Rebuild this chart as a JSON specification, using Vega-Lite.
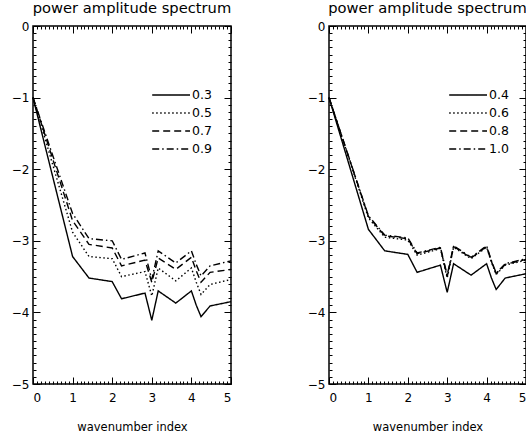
{
  "$schema": "https://vega.github.io/schema/vega-lite/v6.json",
  "padding": {"left": 10, "top": 0, "right": 0, "bottom": 0},
  "datasets": {
    "left": [
      {"s":"0.3","x":0,"y":-1},{"s":"0.3","x":1,"y":-3.22},{"s":"0.3","x":1.414,"y":-3.52},{"s":"0.3","x":2,"y":-3.57},{"s":"0.3","x":2.236,"y":-3.81},{"s":"0.3","x":2.828,"y":-3.73},{"s":"0.3","x":3,"y":-4.11},{"s":"0.3","x":3.162,"y":-3.70},{"s":"0.3","x":3.606,"y":-3.87},{"s":"0.3","x":4,"y":-3.70},{"s":"0.3","x":4.123,"y":-3.90},{"s":"0.3","x":4.243,"y":-4.06},{"s":"0.3","x":4.472,"y":-3.91},{"s":"0.3","x":5,"y":-3.85},
      {"s":"0.5","x":0,"y":-1},{"s":"0.5","x":1,"y":-2.88},{"s":"0.5","x":1.414,"y":-3.22},{"s":"0.5","x":2,"y":-3.25},{"s":"0.5","x":2.236,"y":-3.50},{"s":"0.5","x":2.828,"y":-3.43},{"s":"0.5","x":3,"y":-3.77},{"s":"0.5","x":3.162,"y":-3.38},{"s":"0.5","x":3.606,"y":-3.56},{"s":"0.5","x":4,"y":-3.38},{"s":"0.5","x":4.123,"y":-3.58},{"s":"0.5","x":4.243,"y":-3.75},{"s":"0.5","x":4.472,"y":-3.61},{"s":"0.5","x":5,"y":-3.54},
      {"s":"0.7","x":0,"y":-1},{"s":"0.7","x":1,"y":-2.72},{"s":"0.7","x":1.414,"y":-3.05},{"s":"0.7","x":2,"y":-3.10},{"s":"0.7","x":2.236,"y":-3.35},{"s":"0.7","x":2.828,"y":-3.27},{"s":"0.7","x":3,"y":-3.58},{"s":"0.7","x":3.162,"y":-3.24},{"s":"0.7","x":3.606,"y":-3.40},{"s":"0.7","x":4,"y":-3.23},{"s":"0.7","x":4.123,"y":-3.42},{"s":"0.7","x":4.243,"y":-3.58},{"s":"0.7","x":4.472,"y":-3.44},{"s":"0.7","x":5,"y":-3.40},
      {"s":"0.9","x":0,"y":-1},{"s":"0.9","x":1,"y":-2.62},{"s":"0.9","x":1.414,"y":-2.97},{"s":"0.9","x":2,"y":-3.00},{"s":"0.9","x":2.236,"y":-3.26},{"s":"0.9","x":2.828,"y":-3.17},{"s":"0.9","x":3,"y":-3.54},{"s":"0.9","x":3.162,"y":-3.14},{"s":"0.9","x":3.606,"y":-3.31},{"s":"0.9","x":4,"y":-3.14},{"s":"0.9","x":4.123,"y":-3.33},{"s":"0.9","x":4.243,"y":-3.49},{"s":"0.9","x":4.472,"y":-3.35},{"s":"0.9","x":5,"y":-3.28}
    ],
    "right": [
      {"s":"0.4","x":0,"y":-1},{"s":"0.4","x":1,"y":-2.84},{"s":"0.4","x":1.414,"y":-3.14},{"s":"0.4","x":2,"y":-3.19},{"s":"0.4","x":2.236,"y":-3.44},{"s":"0.4","x":2.828,"y":-3.34},{"s":"0.4","x":3,"y":-3.72},{"s":"0.4","x":3.162,"y":-3.32},{"s":"0.4","x":3.606,"y":-3.48},{"s":"0.4","x":4,"y":-3.32},{"s":"0.4","x":4.123,"y":-3.52},{"s":"0.4","x":4.243,"y":-3.68},{"s":"0.4","x":4.472,"y":-3.52},{"s":"0.4","x":5,"y":-3.46},
      {"s":"0.6","x":0,"y":-1},{"s":"0.6","x":1,"y":-2.68},{"s":"0.6","x":1.414,"y":-2.95},{"s":"0.6","x":2,"y":-2.99},{"s":"0.6","x":2.236,"y":-3.20},{"s":"0.6","x":2.828,"y":-3.11},{"s":"0.6","x":3,"y":-3.52},{"s":"0.6","x":3.162,"y":-3.09},{"s":"0.6","x":3.606,"y":-3.25},{"s":"0.6","x":4,"y":-3.09},{"s":"0.6","x":4.123,"y":-3.30},{"s":"0.6","x":4.243,"y":-3.47},{"s":"0.6","x":4.472,"y":-3.34},{"s":"0.6","x":5,"y":-3.27},
      {"s":"0.8","x":0,"y":-1},{"s":"0.8","x":1,"y":-2.66},{"s":"0.8","x":1.414,"y":-2.93},{"s":"0.8","x":2,"y":-2.97},{"s":"0.8","x":2.236,"y":-3.18},{"s":"0.8","x":2.828,"y":-3.10},{"s":"0.8","x":3,"y":-3.50},{"s":"0.8","x":3.162,"y":-3.08},{"s":"0.8","x":3.606,"y":-3.24},{"s":"0.8","x":4,"y":-3.08},{"s":"0.8","x":4.123,"y":-3.29},{"s":"0.8","x":4.243,"y":-3.46},{"s":"0.8","x":4.472,"y":-3.33},{"s":"0.8","x":5,"y":-3.26},
      {"s":"1.0","x":0,"y":-1},{"s":"1.0","x":1,"y":-2.65},{"s":"1.0","x":1.414,"y":-2.92},{"s":"1.0","x":2,"y":-2.96},{"s":"1.0","x":2.236,"y":-3.17},{"s":"1.0","x":2.828,"y":-3.09},{"s":"1.0","x":3,"y":-3.48},{"s":"1.0","x":3.162,"y":-3.07},{"s":"1.0","x":3.606,"y":-3.23},{"s":"1.0","x":4,"y":-3.07},{"s":"1.0","x":4.123,"y":-3.28},{"s":"1.0","x":4.243,"y":-3.45},{"s":"1.0","x":4.472,"y":-3.32},{"s":"1.0","x":5,"y":-3.25}
    ]
  },
  "config": {
    "font": "DejaVu Sans",
    "view": {"stroke": "black", "strokeWidth": 1.5},
    "axis": {
      "grid": false, "domain": false, "tickColor": "black", "tickWidth": 1,
      "labelColor": "black", "labelFontSize": 12, "titleColor": "black",
      "titleFontSize": 11.5, "titleFontWeight": "normal", "format": "d"
    },
    "title": {"fontSize": 14.7, "fontWeight": "normal", "color": "black", "offset": 0},
    "legend": {
      "orient": "none", "title": null, "symbolType": "M-3.2,0H1", "symbolSize": 324,
      "symbolStrokeColor": "black", "symbolStrokeWidth": 1.3, "symbolFillColor": "transparent",
      "labelFontSize": 12.5, "labelColor": "black", "rowPadding": 1, "labelOffset": 1, "padding": 0
    }
  },
  "spacing": 71,
  "resolve": {"scale": {"strokeDash": "independent"}, "legend": {"strokeDash": "independent"}},
  "hconcat": [
    {
      "width": 198, "height": 358,
      "title": "power amplitude spectrum",
      "data": {"name": "left"},
      "resolve": {"axis": {"x": "independent", "y": "independent"}},
      "layer": [
        {
          "mark": {"type": "line", "color": "black", "strokeWidth": 1.4},
          "encoding": {
            "x": {"field": "x", "type": "quantitative", "scale": {"domain": [0, 5], "nice": false},
              "axis": {"orient": "bottom", "title": "wavenumber index", "titlePadding": 18, "labelPadding": 15, "tickSize": -7, "values": [0,1,2,3,4,5]}},
            "y": {"field": "y", "type": "quantitative", "scale": {"domain": [-5, 0], "nice": false},
              "axis": {"orient": "left", "title": null, "labelPadding": 11, "tickSize": -7, "values": [-5,-4,-3,-2,-1,0]}},
            "strokeDash": {"field": "s", "type": "nominal",
              "scale": {"domain": ["0.3","0.5","0.7","0.9"], "range": [[1,0],[1.5,2.5],[7,4],[7,3,1.5,3]]},
              "legend": {"legendX": 138, "legendY": 59}}
          }
        },
        {
          "mark": {"type": "line", "opacity": 0},
          "encoding": {
            "x": {"field": "x", "type": "quantitative",
              "axis": {"orient": "bottom", "title": null, "labels": false, "tickSize": -3,
                "values": [0.1,0.2,0.3,0.4,0.5,0.6,0.7,0.8,0.9,1.1,1.2,1.3,1.4,1.5,1.6,1.7,1.8,1.9,2.1,2.2,2.3,2.4,2.5,2.6,2.7,2.8,2.9,3.1,3.2,3.3,3.4,3.5,3.6,3.7,3.8,3.9,4.1,4.2,4.3,4.4,4.5,4.6,4.7,4.8,4.9]}},
            "y": {"field": "y", "type": "quantitative",
              "axis": {"orient": "left", "title": null, "labels": false, "tickSize": -3,
                "values": [-4.9,-4.8,-4.7,-4.6,-4.5,-4.4,-4.3,-4.2,-4.1,-3.9,-3.8,-3.7,-3.6,-3.5,-3.4,-3.3,-3.2,-3.1,-2.9,-2.8,-2.7,-2.6,-2.5,-2.4,-2.3,-2.2,-2.1,-1.9,-1.8,-1.7,-1.6,-1.5,-1.4,-1.3,-1.2,-1.1,-0.9,-0.8,-0.7,-0.6,-0.5,-0.4,-0.3,-0.2,-0.1]}},
            "detail": {"field": "s"}
          }
        },
        {
          "mark": {"type": "line", "opacity": 0},
          "encoding": {
            "x": {"field": "x", "type": "quantitative",
              "axis": {"orient": "top", "title": null, "labels": false, "tickSize": -3,
                "values": [0.1,0.2,0.3,0.4,0.5,0.6,0.7,0.8,0.9,1.1,1.2,1.3,1.4,1.5,1.6,1.7,1.8,1.9,2.1,2.2,2.3,2.4,2.5,2.6,2.7,2.8,2.9,3.1,3.2,3.3,3.4,3.5,3.6,3.7,3.8,3.9,4.1,4.2,4.3,4.4,4.5,4.6,4.7,4.8,4.9]}},
            "y": {"field": "y", "type": "quantitative",
              "axis": {"orient": "right", "title": null, "labels": false, "tickSize": -3,
                "values": [-4.9,-4.8,-4.7,-4.6,-4.5,-4.4,-4.3,-4.2,-4.1,-3.9,-3.8,-3.7,-3.6,-3.5,-3.4,-3.3,-3.2,-3.1,-2.9,-2.8,-2.7,-2.6,-2.5,-2.4,-2.3,-2.2,-2.1,-1.9,-1.8,-1.7,-1.6,-1.5,-1.4,-1.3,-1.2,-1.1,-0.9,-0.8,-0.7,-0.6,-0.5,-0.4,-0.3,-0.2,-0.1]}},
            "detail": {"field": "s"}
          }
        },
        {
          "mark": {"type": "line", "opacity": 0},
          "encoding": {
            "x": {"field": "x", "type": "quantitative",
              "axis": {"orient": "top", "title": null, "labels": false, "tickSize": -7, "values": [0,1,2,3,4,5]}},
            "y": {"field": "y", "type": "quantitative",
              "axis": {"orient": "right", "title": null, "labels": false, "tickSize": -7, "values": [-5,-4,-3,-2,-1,0]}},
            "detail": {"field": "s"}
          }
        }
      ]
    },
    {
      "width": 197, "height": 358,
      "title": "power amplitude spectrum",
      "data": {"name": "right"},
      "resolve": {"axis": {"x": "independent", "y": "independent"}},
      "layer": [
        {
          "mark": {"type": "line", "color": "black", "strokeWidth": 1.4},
          "encoding": {
            "x": {"field": "x", "type": "quantitative", "scale": {"domain": [0, 5], "nice": false},
              "axis": {"orient": "bottom", "title": "wavenumber index", "titlePadding": 18, "labelPadding": 15, "tickSize": -7, "values": [0,1,2,3,4,5]}},
            "y": {"field": "y", "type": "quantitative", "scale": {"domain": [-5, 0], "nice": false},
              "axis": {"orient": "left", "title": null, "labelPadding": 11, "tickSize": -7, "values": [-5,-4,-3,-2,-1,0]}},
            "strokeDash": {"field": "s", "type": "nominal",
              "scale": {"domain": ["0.4","0.6","0.8","1.0"], "range": [[1,0],[1.5,2.5],[7,4],[7,3,1.5,3]]},
              "legend": {"legendX": 139, "legendY": 59}}
          }
        },
        {
          "mark": {"type": "line", "opacity": 0},
          "encoding": {
            "x": {"field": "x", "type": "quantitative",
              "axis": {"orient": "bottom", "title": null, "labels": false, "tickSize": -3,
                "values": [0.1,0.2,0.3,0.4,0.5,0.6,0.7,0.8,0.9,1.1,1.2,1.3,1.4,1.5,1.6,1.7,1.8,1.9,2.1,2.2,2.3,2.4,2.5,2.6,2.7,2.8,2.9,3.1,3.2,3.3,3.4,3.5,3.6,3.7,3.8,3.9,4.1,4.2,4.3,4.4,4.5,4.6,4.7,4.8,4.9]}},
            "y": {"field": "y", "type": "quantitative",
              "axis": {"orient": "left", "title": null, "labels": false, "tickSize": -3,
                "values": [-4.9,-4.8,-4.7,-4.6,-4.5,-4.4,-4.3,-4.2,-4.1,-3.9,-3.8,-3.7,-3.6,-3.5,-3.4,-3.3,-3.2,-3.1,-2.9,-2.8,-2.7,-2.6,-2.5,-2.4,-2.3,-2.2,-2.1,-1.9,-1.8,-1.7,-1.6,-1.5,-1.4,-1.3,-1.2,-1.1,-0.9,-0.8,-0.7,-0.6,-0.5,-0.4,-0.3,-0.2,-0.1]}},
            "detail": {"field": "s"}
          }
        },
        {
          "mark": {"type": "line", "opacity": 0},
          "encoding": {
            "x": {"field": "x", "type": "quantitative",
              "axis": {"orient": "top", "title": null, "labels": false, "tickSize": -3,
                "values": [0.1,0.2,0.3,0.4,0.5,0.6,0.7,0.8,0.9,1.1,1.2,1.3,1.4,1.5,1.6,1.7,1.8,1.9,2.1,2.2,2.3,2.4,2.5,2.6,2.7,2.8,2.9,3.1,3.2,3.3,3.4,3.5,3.6,3.7,3.8,3.9,4.1,4.2,4.3,4.4,4.5,4.6,4.7,4.8,4.9]}},
            "y": {"field": "y", "type": "quantitative",
              "axis": {"orient": "right", "title": null, "labels": false, "tickSize": -3,
                "values": [-4.9,-4.8,-4.7,-4.6,-4.5,-4.4,-4.3,-4.2,-4.1,-3.9,-3.8,-3.7,-3.6,-3.5,-3.4,-3.3,-3.2,-3.1,-2.9,-2.8,-2.7,-2.6,-2.5,-2.4,-2.3,-2.2,-2.1,-1.9,-1.8,-1.7,-1.6,-1.5,-1.4,-1.3,-1.2,-1.1,-0.9,-0.8,-0.7,-0.6,-0.5,-0.4,-0.3,-0.2,-0.1]}},
            "detail": {"field": "s"}
          }
        },
        {
          "mark": {"type": "line", "opacity": 0},
          "encoding": {
            "x": {"field": "x", "type": "quantitative",
              "axis": {"orient": "top", "title": null, "labels": false, "tickSize": -7, "values": [0,1,2,3,4,5]}},
            "y": {"field": "y", "type": "quantitative",
              "axis": {"orient": "right", "title": null, "labels": false, "tickSize": -7, "values": [-5,-4,-3,-2,-1,0]}},
            "detail": {"field": "s"}
          }
        }
      ]
    }
  ]
}
